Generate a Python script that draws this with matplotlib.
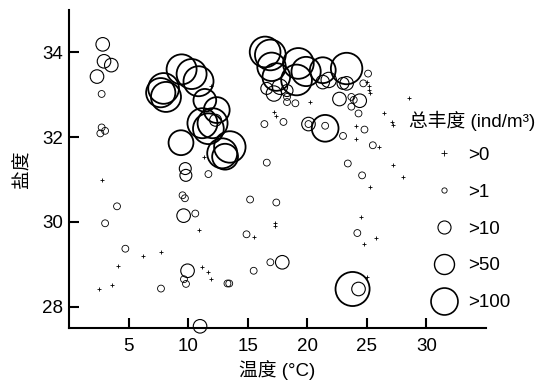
import matplotlib
matplotlib.use("Agg")
import matplotlib.pyplot as plt
import numpy as np
from matplotlib.lines import Line2D

plt.rcParams["font.family"] = ["Liberation Sans", "Noto Sans CJK SC"]
plt.rcParams["font.size"] = 13.5

# temperature (°C), salinity, total abundance (ind/m3)
temp = [
    2.83, 2.94, 3.55, 2.35, 2.74, 2.74, 3.03, 2.63, 2.74, 4.03, 3.03, 4.73,
    4.14, 6.21, 7.72, 2.55, 3.61, 7.72,
    9.45, 10.29, 10.87, 7.94, 8.14, 7.7,
    11.4, 12.4, 11.2, 12.05, 11.7, 9.40, 12.86, 13.5, 13.1, 12.3,
    11.9, 11.3,
    9.76, 9.81, 11.7, 9.53, 9.73, 9.62, 10.6, 10.93, 9.95, 9.65, 9.82,
    11.2, 11.63, 11.91, 13.3, 11.0, 13.45,
    16.46, 16.9, 17.0, 17.4, 19.25, 19.1, 19.9, 21.3, 23.3, 21.8,
    17.2, 17.7, 18.3, 16.6, 18.3, 21.3, 22.7, 23.3, 24.4, 23.0,
    18.3, 19.0, 23.9, 23.7, 23.7, 25.1, 24.7, 24.3, 24.8, 23.0, 25.5,
    16.4, 18.0, 16.6, 23.4, 24.6,
    25.0, 25.2, 25.3, 25.2, 26.0, 26.4, 27.1, 27.2, 28.5, 24.1, 24.1,
    27.2, 28.05, 25.3, 20.2, 17.2, 17.4,
    20.1, 20.1, 21.5, 21.5,
    15.2, 17.4, 17.3, 17.3, 14.9, 15.5, 24.5, 24.2, 24.8, 25.8,
    16.9, 17.9, 15.5, 23.8, 24.3, 25.0,
]
salinity = [
    34.19, 33.79, 33.70, 33.43, 33.02, 32.23, 32.15, 32.09, 30.99, 30.37, 29.97, 29.37,
    28.97, 29.20, 29.30, 28.43, 28.51, 28.43,
    33.60, 33.49, 33.32, 33.15, 32.95, 33.05,
    32.87, 32.64, 32.33, 32.33, 32.20, 31.87, 31.62, 31.77, 31.54, 32.40,
    33.20, 31.54,
    31.26, 31.10, 31.13, 30.63, 30.56, 30.15, 30.20, 29.81, 28.85, 28.65, 28.54,
    28.94, 28.81, 28.65, 28.55, 27.54, 28.55,
    34.01, 33.94, 33.66, 33.42, 33.74, 33.35, 33.55, 33.58, 33.62, 33.35,
    33.03, 33.19, 33.10, 33.15, 32.95, 33.30, 32.90, 33.27, 32.86, 33.27,
    32.83, 32.80, 32.88, 32.95, 32.72, 33.50, 33.27, 32.56, 32.18, 32.03, 31.81,
    32.31, 32.36, 31.40, 31.38, 31.10,
    33.30, 33.20, 33.05, 33.12, 31.77, 32.58, 32.36, 32.28, 32.92, 32.26, 31.96,
    31.35, 31.07, 30.82, 32.83, 32.60, 32.50,
    32.31, 32.31, 32.21, 32.27,
    30.53, 30.46, 29.97, 29.90, 29.71, 29.64, 30.11, 29.74, 29.48, 29.62,
    29.05, 29.05, 28.85, 28.42, 28.42, 28.70,
]
abundance = [
    11, 11, 11, 11, 2, 2, 2, 2, 0.5, 2, 2, 2,
    0.5, 0.5, 0.5, 0.5, 0.5, 2,
    80, 80, 80, 85, 80, 75,
    40, 55, 80, 80, 85, 50, 80, 90, 55, 8,
    0.5, 0.5,
    8, 8, 2, 2, 2, 11, 2, 0.5, 11, 2, 2,
    0.5, 0.5, 0.5, 2, 11, 2,
    85, 85, 70, 65, 85, 85, 75, 55, 90, 15,
    15, 15, 8, 8, 2, 11, 11, 11, 11, 8,
    2, 2, 2, 2, 2, 2, 2, 2, 2, 2, 2,
    2, 2, 2, 2, 2,
    0.5, 0.5, 0.5, 0.5, 0.5, 0.5, 0.5, 0.5, 0.5, 0.5, 0.5,
    0.5, 0.5, 0.5, 0.5, 0.5, 0.5,
    11, 2, 60, 2,
    2, 2, 0.5, 0.5, 2, 0.5, 0.5, 2, 0.5, 0.5,
    2, 11, 2, 110, 11, 0.5,
]

legend_labels = [">0", ">1", ">10", ">50", ">100"]

temp = np.array(temp)
salinity = np.array(salinity)
abundance = np.array(abundance)


def radius_px(a):
    return 2.6 * a ** 0.4


fig = plt.figure(figsize=(5.39, 3.83), dpi=100)
ax = fig.add_axes([69 / 539, 1 - 328 / 383, (486 - 69) / 539, (328 - 10) / 383])

low = abundance < 1
ax.scatter(temp[low], salinity[low], marker="+", s=10, c="black", linewidths=0.6,
           clip_on=False)

for lo, hi, lw in [(1, 5, 0.6), (5, 30, 0.8), (30, 1000, 1.3)]:
    m = (abundance >= lo) & (abundance < hi)
    size = (2 * radius_px(abundance[m]) * 0.72) ** 2
    ax.scatter(temp[m], salinity[m], s=size, facecolors="none", edgecolors="black",
               linewidths=lw, clip_on=False)

ax.set_xlim(0, 35)
ax.set_ylim(27.5, 35)
ax.set_xticks([5, 10, 15, 20, 25, 30])
ax.set_yticks([28, 30, 32, 34])
for side in ["top", "right"]:
    ax.spines[side].set_visible(False)
for side in ["left", "bottom"]:
    ax.spines[side].set_linewidth(1.5)
ax.tick_params(axis="both", direction="in", length=7.5, width=1.5)
ax.tick_params(axis="x", pad=7)
ax.tick_params(axis="y", pad=4)
ax.set_xlabel("温度 (°C)", labelpad=4)
ax.set_ylabel("盐度", labelpad=8)

# legend markers (diameters in points)
handles = [Line2D([], [], ls="none", marker="+", ms=4, mec="black", mew=0.6)]
for d, lw in [(3.8, 0.6), (9.4, 0.8), (14.4, 1.0), (19.4, 1.2)]:
    handles.append(Line2D([], [], ls="none", marker="o", ms=d, mfc="none",
                          mec="black", mew=lw))
fig.legend(handles, legend_labels, loc="upper center",
           bbox_to_anchor=(468 / 539, 1 - 137.5 / 383), frameon=False,
           borderpad=0, labelspacing=1.05, handletextpad=0.27, fontsize=13.5)
fig.text(472 / 539, 1 - 121 / 383, "总丰度 (ind/m³)", ha="center", va="center",
         fontsize=13.5)

fig.savefig("out.png", dpi=100)
